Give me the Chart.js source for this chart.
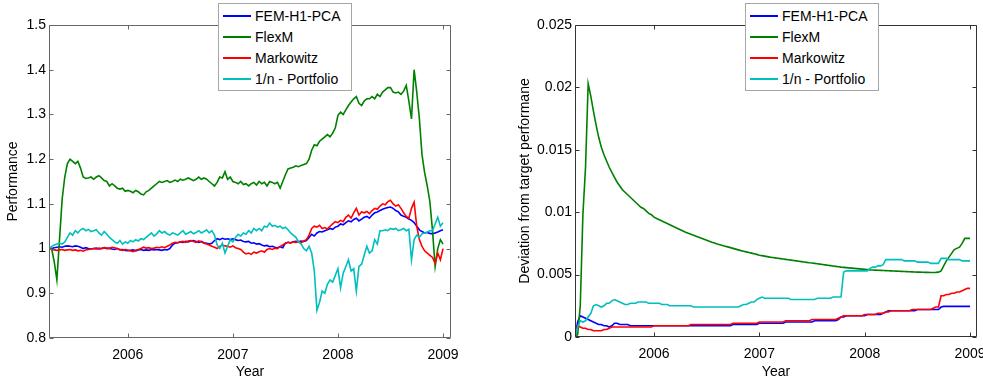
<!DOCTYPE html>
<html>
<head>
<meta charset="utf-8">
<script src="https://cdn.jsdelivr.net/npm/chart.js@4.4.1/dist/chart.umd.min.js"></script>
<style>
  html, body { margin: 0; padding: 0; background: #fff; }
  #wrap { position: relative; width: 983px; height: 383px; overflow: hidden; font-family: "Liberation Sans", Arial, sans-serif; }
  .pane { position: absolute; top: 0; height: 383px; }
  #paneL { left: 0; width: 480px; }
  #paneR { left: 490px; width: 493px; }
  .legend { position: absolute; top: 3px; width: 134px; height: 88px; box-sizing: border-box; border: 1px solid #a6a6a6; background: #fff; padding: 1px 0; font-size: 14px; color: #000; }
  .legend .row { display: flex; align-items: center; height: 21px; white-space: nowrap; }
  .legend .swatch { width: 28px; height: 0; border-top: 2px solid; margin: 0 4px; }
</style>
</head>
<body>
<div id="wrap">
  <div class="pane" id="paneL"><canvas id="perfChart" width="480" height="383"></canvas></div>
  <div class="pane" id="paneR"><canvas id="devChart" width="493" height="383"></canvas></div>
  <div class="legend" id="legendL" style="left:218px"></div>
  <div class="legend" id="legendR" style="left:745px"></div>
</div>
<script>
// 横軸: 2005/04 〜 2009/01, 1/40年きざみのサンプル位置
const years = [];
for (let i = 0; i <= 150; i++) years.push(2005.25 + i / 40);

const yearTicks = [2006, 2007, 2008, 2009];
const perfTicks = [0.8, 0.9, 1, 1.1, 1.2, 1.3, 1.4, 1.5];
const devTicks = [0, 0.005, 0.01, 0.015, 0.02, 0.025];
const seriesNames = ['FEM-H1-PCA', 'FlexM', 'Markowitz', '1/n - Portfolio'];

// 左: Performance
const perfFem = [
  1.0, 1.0, 1.002, 1.003, 1.004, 1.003, 1.005, 1.006, 1.005, 1.004,
  1.006, 1.005, 1.003, 1.0, 1.002, 1.0, 0.999, 1.0, 1.001, 0.999,
  1.0, 1.002, 1.0, 1.001, 0.999, 0.998, 1.0, 0.997, 0.998, 0.996,
  0.995, 0.996, 0.997, 0.995, 0.997, 0.998, 0.996, 0.997, 0.996, 0.998,
  0.997, 0.998, 0.997, 0.996, 0.998, 0.997, 1.0, 1.008, 1.012, 1.013,
  1.015, 1.014, 1.016, 1.015, 1.017, 1.018, 1.016, 1.014, 1.016, 1.013,
  1.012, 1.01, 1.012, 1.018, 1.022, 1.02, 1.023, 1.021, 1.022, 1.02,
  1.022, 1.02, 1.018, 1.019, 1.016, 1.015, 1.016, 1.012, 1.013, 1.01,
  1.011, 1.008, 1.006, 1.007, 1.004, 1.005, 1.003, 1.002, 1.004, 1.002,
  1.012, 1.014, 1.013, 1.015, 1.016, 1.015, 1.017, 1.016, 1.018, 1.025,
  1.032, 1.028, 1.035, 1.038, 1.037, 1.04, 1.042, 1.045, 1.043, 1.048,
  1.05, 1.055, 1.053, 1.058, 1.062, 1.06, 1.065, 1.068, 1.062, 1.066,
  1.07, 1.072, 1.068, 1.075, 1.08, 1.082, 1.085, 1.088, 1.09, 1.092,
  1.093, 1.09, 1.085, 1.082, 1.075, 1.072, 1.07, 1.066, 1.063, 1.058,
  1.05, 1.042, 1.038, 1.035, 1.036, 1.034, 1.033, 1.035, 1.037, 1.04,
  1.042
];
const perfFlex = [
  1.0, 1.0, 0.97, 0.93, 1.02, 1.11, 1.16, 1.19, 1.2, 1.195,
  1.19, 1.195, 1.18, 1.16, 1.157, 1.158, 1.16, 1.155, 1.16, 1.163,
  1.158, 1.152, 1.15, 1.14, 1.145, 1.14, 1.135, 1.133, 1.135, 1.128,
  1.13, 1.128, 1.125, 1.13, 1.127, 1.122, 1.12, 1.127, 1.13, 1.135,
  1.14, 1.145, 1.15, 1.148, 1.15, 1.152, 1.148, 1.15, 1.153, 1.15,
  1.155, 1.153, 1.155, 1.158, 1.155, 1.152, 1.155, 1.16, 1.155, 1.158,
  1.155, 1.15, 1.145, 1.14, 1.148, 1.16, 1.158, 1.172, 1.155, 1.16,
  1.15, 1.148, 1.145, 1.15, 1.143, 1.145, 1.14, 1.145, 1.148, 1.142,
  1.15, 1.145, 1.148, 1.14, 1.15, 1.148, 1.145, 1.148, 1.135, 1.15,
  1.165, 1.178, 1.18, 1.182, 1.185, 1.183, 1.186, 1.188, 1.19, 1.2,
  1.22, 1.232, 1.23, 1.24, 1.245, 1.25, 1.255, 1.25, 1.258, 1.27,
  1.298, 1.305, 1.3, 1.31, 1.32, 1.328, 1.335, 1.34, 1.325, 1.32,
  1.33, 1.335, 1.335, 1.34, 1.335, 1.345, 1.34, 1.35, 1.355, 1.36,
  1.36, 1.35, 1.348, 1.35, 1.345, 1.352, 1.365, 1.33, 1.29, 1.4,
  1.35, 1.29, 1.21, 1.17, 1.14, 1.105, 1.04, 0.96, 1.0, 1.02,
  1.01
];
const perfMarkowitz = [
  1.0, 0.998, 0.997, 0.996, 0.997, 0.998, 0.996, 0.997, 0.998, 0.996,
  0.997, 0.995, 0.996, 0.994, 0.997, 0.998, 0.999, 1.0, 0.999, 1.001,
  1.0, 1.002, 1.001, 1.0, 1.003, 1.002, 1.0, 0.998, 0.996, 0.998,
  0.997, 0.995, 0.993, 0.996, 0.998, 1.0, 1.003, 1.001, 1.002, 1.0,
  1.001, 1.003, 1.002, 1.004, 1.002, 1.005, 1.008, 1.012, 1.014, 1.013,
  1.015, 1.016, 1.014, 1.017, 1.018, 1.016, 1.014, 1.017, 1.015, 1.012,
  1.01, 1.008, 1.005, 1.003, 1.0, 1.005, 1.008, 1.006, 1.005, 1.003,
  1.006, 1.002, 1.0, 0.998, 0.992, 0.988, 0.99, 0.987, 0.992, 0.99,
  0.993, 0.995, 0.992, 0.998, 1.0, 0.998, 1.001, 1.0, 1.005, 1.008,
  1.012, 1.014, 1.012, 1.015, 1.014, 1.016, 1.013, 1.017, 1.02, 1.03,
  1.045, 1.05, 1.048, 1.052, 1.045, 1.047, 1.044, 1.05, 1.055, 1.06,
  1.058, 1.063, 1.06, 1.07, 1.075, 1.068, 1.08, 1.09, 1.075, 1.082,
  1.08, 1.083, 1.078, 1.085, 1.09, 1.088, 1.095, 1.1, 1.098, 1.105,
  1.108, 1.1, 1.095, 1.098, 1.09, 1.08, 1.072, 1.068, 1.09, 1.104,
  1.05, 1.02, 1.005, 0.995, 0.99, 0.985, 0.98, 0.967, 0.99, 0.975,
  1.0
];
const perfUniform = [
  1.0, 1.005, 1.008, 1.01, 1.012, 1.01, 1.015, 1.025, 1.035, 1.03,
  1.04, 1.035, 1.042, 1.045, 1.04, 1.043, 1.038, 1.04, 1.042, 1.035,
  1.03, 1.038, 1.032, 1.025, 1.02, 1.015, 1.012, 1.018, 1.01, 1.015,
  1.012, 1.018, 1.015, 1.02, 1.017, 1.022, 1.02, 1.025, 1.03, 1.035,
  1.028, 1.033, 1.04, 1.035, 1.038, 1.033, 1.03, 1.035, 1.033, 1.03,
  1.035, 1.04, 1.032, 1.035, 1.038, 1.033, 1.036, 1.04, 1.035, 1.038,
  1.042, 1.035, 1.04, 1.03, 1.008, 1.0, 1.012, 0.99, 1.005, 1.02,
  1.015, 1.025, 1.032, 1.028, 1.035, 1.032, 1.04, 1.035, 1.045, 1.04,
  1.045, 1.04, 1.05, 1.048, 1.057, 1.05, 1.052, 1.048, 1.05, 1.045,
  1.048, 1.042, 1.035, 1.03, 1.025, 1.015, 1.01, 1.0, 0.995, 1.005,
  0.99, 0.95, 0.862, 0.88, 0.905, 0.9, 0.92, 0.93, 0.925, 0.94,
  0.955, 0.912, 0.945, 0.96, 0.975, 0.95, 0.955, 0.905, 0.96, 0.965,
  0.985, 1.005, 0.99, 0.995, 1.02, 1.01, 1.04, 1.04, 1.042, 1.04,
  1.045, 1.043, 1.045, 1.04, 1.042, 1.045, 1.04, 1.043, 0.975, 1.02,
  1.03, 1.025, 1.033, 1.035, 1.037, 1.04, 1.04, 1.055, 1.07, 1.05,
  1.058
];

// 右: Deviation from target performane
const devFem = [
  0, 0.0012, 0.0017, 0.0016, 0.0015, 0.0014, 0.0013, 0.0012, 0.0011, 0.001,
  0.001, 0.0009, 0.0009, 0.0008, 0.0009, 0.0011, 0.0011, 0.001, 0.001, 0.001,
  0.001, 0.0009, 0.0009, 0.0009, 0.0009, 0.0009, 0.0009, 0.0009, 0.0009, 0.0009,
  0.0009, 0.0009, 0.0009, 0.0009, 0.0009, 0.0009, 0.0009, 0.0009, 0.0009, 0.0009,
  0.0009, 0.0009, 0.0009, 0.0009, 0.0009, 0.0009, 0.0009, 0.0009, 0.0009, 0.0009,
  0.0009, 0.0009, 0.0009, 0.0009, 0.0009, 0.0009, 0.0009, 0.0009, 0.0009, 0.0009,
  0.001, 0.001, 0.001, 0.001, 0.001, 0.001, 0.001, 0.001, 0.001, 0.001,
  0.0011, 0.0011, 0.0011, 0.0011, 0.0011, 0.0011, 0.0011, 0.0011, 0.0011, 0.0011,
  0.0012, 0.0012, 0.0012, 0.0012, 0.0012, 0.0012, 0.0012, 0.0012, 0.0012, 0.0012,
  0.0012, 0.0013, 0.0013, 0.0013, 0.0013, 0.0013, 0.0013, 0.0013, 0.0013, 0.0013,
  0.0014, 0.0016, 0.0016, 0.0017, 0.0017, 0.0017, 0.0017, 0.0017, 0.0017, 0.0017,
  0.0017, 0.0018, 0.0018, 0.0018, 0.0018, 0.0018, 0.0018, 0.0019, 0.002, 0.0021,
  0.0021, 0.0021, 0.0021, 0.0021, 0.0021, 0.0021, 0.0021, 0.0021, 0.0021, 0.0021,
  0.0022, 0.0022, 0.0022, 0.0022, 0.0022, 0.0022, 0.0022, 0.0022, 0.0022, 0.0024,
  0.00245, 0.00245, 0.00245, 0.00245, 0.00245, 0.00245, 0.00245, 0.00245, 0.00245, 0.00245,
  0.00245
];
const devFlex = [
  0, 0.0002, 0.0025, 0.0098, 0.0136, 0.0203, 0.0193, 0.0181, 0.017, 0.016,
  0.0152, 0.0146, 0.0141, 0.0136, 0.0132, 0.0128, 0.0124, 0.0121, 0.0118, 0.0116,
  0.0114, 0.0112, 0.011, 0.0108, 0.0106, 0.0104, 0.0103, 0.0101, 0.0099, 0.0098,
  0.0096, 0.0095, 0.0094, 0.0093, 0.0092, 0.0091, 0.009, 0.0089, 0.0088, 0.0087,
  0.0086, 0.0085, 0.0084, 0.00832, 0.00824, 0.00816, 0.00808, 0.008, 0.00792, 0.00784,
  0.00776, 0.00768, 0.0076, 0.00753, 0.00746, 0.0074, 0.00734, 0.00728, 0.00722, 0.00716,
  0.0071, 0.00704, 0.00698, 0.00692, 0.00687, 0.00682, 0.00677, 0.00672, 0.00667, 0.00662,
  0.00655, 0.00652, 0.00648, 0.00644, 0.0064, 0.00637, 0.00634, 0.00631, 0.00628, 0.00625,
  0.00622, 0.00619, 0.00616, 0.00613, 0.0061, 0.00607, 0.00604, 0.00601, 0.00598, 0.00595,
  0.00593, 0.0059, 0.00587, 0.00584, 0.00581, 0.00578, 0.00575, 0.00572, 0.00569, 0.00566,
  0.00563, 0.0056, 0.00558, 0.00556, 0.00554, 0.00552, 0.0055, 0.00548, 0.00546, 0.00544,
  0.00542, 0.0054, 0.00538, 0.00537, 0.00536, 0.00535, 0.00534, 0.00533, 0.00532, 0.00531,
  0.0053, 0.00529, 0.00528, 0.00527, 0.00526, 0.00525, 0.00524, 0.00523, 0.00522, 0.00521,
  0.0052, 0.0052, 0.00519, 0.00518, 0.00518, 0.00517, 0.00517, 0.00518, 0.0052, 0.0053,
  0.0057, 0.0061, 0.0064, 0.0067, 0.007, 0.0071, 0.0072, 0.0075, 0.0079, 0.0079,
  0.0079
];
const devMarkowitz = [
  0, 0.0009, 0.0008, 0.0007, 0.0007, 0.0006, 0.0006, 0.0005, 0.0005, 0.0005,
  0.0005, 0.0006, 0.0006, 0.0007, 0.0008, 0.0008, 0.0008, 0.0008, 0.0008, 0.0008,
  0.0008, 0.0008, 0.0008, 0.0008, 0.0008, 0.0008, 0.0008, 0.0008, 0.0008, 0.0008,
  0.0009, 0.0009, 0.0009, 0.0009, 0.0009, 0.0009, 0.0009, 0.0009, 0.0009, 0.0009,
  0.0009, 0.0009, 0.0009, 0.0009, 0.001, 0.001, 0.001, 0.001, 0.001, 0.001,
  0.001, 0.001, 0.001, 0.001, 0.001, 0.001, 0.001, 0.001, 0.001, 0.001,
  0.0011, 0.0011, 0.0011, 0.0011, 0.0011, 0.0011, 0.0011, 0.0011, 0.0011, 0.0011,
  0.0012, 0.0012, 0.0012, 0.0012, 0.0012, 0.0012, 0.0012, 0.0012, 0.0012, 0.0012,
  0.0013, 0.0013, 0.0013, 0.0013, 0.0013, 0.0013, 0.0013, 0.0013, 0.0013, 0.0013,
  0.0014, 0.0014, 0.0014, 0.0014, 0.0014, 0.0014, 0.0014, 0.0014, 0.0014, 0.0014,
  0.0015, 0.0016, 0.0017, 0.0017, 0.0017, 0.0017, 0.0017, 0.0017, 0.0017, 0.0017,
  0.0018, 0.0018, 0.0018, 0.0018, 0.0018, 0.0019, 0.0019, 0.0019, 0.002, 0.002,
  0.0021, 0.0021, 0.0021, 0.0021, 0.0021, 0.0021, 0.0021, 0.0021, 0.0022, 0.0022,
  0.0022, 0.0022, 0.0022, 0.0022, 0.0022, 0.0022, 0.0023, 0.0024, 0.0024, 0.0033,
  0.0033, 0.0034, 0.0034, 0.0035, 0.0035, 0.0036, 0.0036, 0.0037, 0.0038, 0.0039,
  0.0039
];
const devUniform = [
  0, 0.0008, 0.0013, 0.0012, 0.0013, 0.0016, 0.0019, 0.0025, 0.0026, 0.0025,
  0.0024, 0.0025, 0.0027, 0.0027, 0.0029, 0.003, 0.0029, 0.0028, 0.0027, 0.0026,
  0.0026, 0.0027, 0.0027, 0.0027, 0.0028, 0.0028, 0.0028, 0.0028, 0.0027, 0.0027,
  0.0027, 0.0027, 0.0027, 0.0026, 0.0026, 0.0026, 0.0025, 0.0025, 0.0025, 0.0025,
  0.0025, 0.0025, 0.0025, 0.0025, 0.0025, 0.0024, 0.0024, 0.0024, 0.0024, 0.0024,
  0.0024, 0.0024, 0.0024, 0.0024, 0.0024, 0.0024, 0.0024, 0.0024, 0.0024, 0.0024,
  0.0024, 0.0024, 0.0024, 0.0025, 0.0026, 0.0026, 0.0027, 0.0028, 0.0028, 0.003,
  0.0031, 0.0032, 0.0031, 0.0031, 0.0031, 0.0031, 0.0031, 0.0031, 0.0031, 0.0031,
  0.0031, 0.0031, 0.003, 0.003, 0.003, 0.003, 0.003, 0.003, 0.003, 0.003,
  0.003, 0.003, 0.0031, 0.0031, 0.0031, 0.0031, 0.0031, 0.0031, 0.0032, 0.0032,
  0.0032, 0.0032, 0.0052, 0.0053, 0.0053, 0.0053, 0.0053, 0.0053, 0.0053, 0.0053,
  0.0053, 0.0053, 0.0055, 0.0056, 0.0056, 0.0057, 0.0057, 0.0058, 0.0062, 0.0062,
  0.0062, 0.0062, 0.0062, 0.0062, 0.0062, 0.0061, 0.0061, 0.0061, 0.0061, 0.0061,
  0.006, 0.006, 0.006, 0.006, 0.006, 0.0059, 0.0059, 0.0059, 0.0059, 0.0063,
  0.0063, 0.0063, 0.0062, 0.0062, 0.0062, 0.0062, 0.0062, 0.0061, 0.0061, 0.0061,
  0.0061
];

const lineColors = ['#0000ff', '#008000', '#ff0000', '#00bfbf'];
const drawOrder = [4, 3, 2, 1]; // matlabと同じく後の系列が上

Chart.defaults.font.family = '"Liberation Sans", Arial, sans-serif';
Chart.defaults.font.size = 14;
Chart.defaults.color = '#000';

// 枠線と内向きの目盛り (matlab風)
const matlabAxes = {
  id: 'matlabAxes',
  afterDatasetsDraw(chart, args, opts) {
    const ctx = chart.ctx, a = chart.chartArea;
    const xs = chart.scales.x, ys = chart.scales.y;
    const L = Math.round(a.left) + 0.5, R = Math.round(a.right) - 0.5;
    const T = Math.round(a.top) + 0.5, B = Math.round(a.bottom) - 0.5;
    ctx.save();
    ctx.strokeStyle = opts.color;
    ctx.lineWidth = 1;
    ctx.beginPath();
    ctx.rect(L, T, R - L, B - T);
    xs.ticks.forEach(t => {
      const px = Math.round(xs.getPixelForValue(t.value)) + 0.5;
      ctx.moveTo(px, B); ctx.lineTo(px, B - 4);
      ctx.moveTo(px, T); ctx.lineTo(px, T + 4);
    });
    ys.ticks.forEach(t => {
      const py = Math.round(ys.getPixelForValue(t.value)) + 0.5;
      ctx.moveTo(L, py); ctx.lineTo(L + 4, py);
      ctx.moveTo(R, py); ctx.lineTo(R - 4, py);
    });
    ctx.stroke();
    ctx.restore();
  }
};

function makeSets(list) {
  return list.map((vals, k) => ({
    label: seriesNames[k],
    data: vals.map((v, i) => ({x: years[i], y: v})),
    borderColor: lineColors[k],
    borderWidth: 1.6,
    pointRadius: 0,
    tension: 0,
    order: drawOrder[k]
  }));
}

function makeChart(id, sets, cfg) {
  return new Chart(document.getElementById(id), {
    type: 'line',
    data: {datasets: sets},
    options: {
      responsive: false,
      animation: false,
      events: [],
      layout: {padding: {top: 25, right: cfg.padRight, left: 0, bottom: 0}},
      plugins: {
        legend: {display: false},
        tooltip: {enabled: false},
        matlabAxes: {color: cfg.boxColor}
      },
      scales: {
        x: {
          type: 'linear',
          min: 2005.25,
          max: cfg.xMax,
          afterBuildTicks: s => { s.ticks = yearTicks.map(v => ({value: v})); },
          afterFit: s => { s.height = cfg.xHeight; s.paddingLeft = 0; s.paddingRight = 0; },
          ticks: {padding: 9, maxRotation: 0, callback: v => String(v)},
          grid: {display: false, drawTicks: false},
          border: {display: false},
          title: {display: true, text: 'Year', padding: {top: 0, bottom: 2}}
        },
        y: {
          min: cfg.yTicks[0],
          max: cfg.yTicks[cfg.yTicks.length - 1],
          afterBuildTicks: s => { s.ticks = cfg.yTicks.map(v => ({value: v})); },
          afterFit: s => { s.width = cfg.yWidth; s.paddingTop = 0; s.paddingBottom = 0; },
          ticks: {padding: 3, callback: v => String(+v.toFixed(4))},
          grid: {display: false, drawTicks: false},
          border: {display: false},
          title: {display: true, text: cfg.yTitle, padding: {top: cfg.titlePad, bottom: 0}}
        }
      }
    },
    plugins: [matlabAxes]
  });
}

makeChart('perfChart', makeSets([perfFem, perfFlex, perfMarkowitz, perfUniform]), {
  padRight: 29, xMax: 2009.076, xHeight: 45, yWidth: 49,
  yTicks: perfTicks, yTitle: 'Performance', titlePad: 5, boxColor: '#666'
});

makeChart('devChart', makeSets([devFem, devFlex, devMarkowitz, devUniform]), {
  padRight: 6, xMax: 2009.066, xHeight: 46, yWidth: 85,
  yTicks: devTicks, yTitle: 'Deviation from target performane', titlePad: 27, boxColor: '#333'
});

// 凡例 (グラフの上に重ねる)
['legendL', 'legendR'].forEach(id => {
  const box = document.getElementById(id);
  seriesNames.forEach((name, k) => {
    const row = document.createElement('div');
    row.className = 'row';
    const sw = document.createElement('span');
    sw.className = 'swatch';
    sw.style.borderTopColor = lineColors[k];
    const txt = document.createElement('span');
    txt.textContent = name;
    row.appendChild(sw);
    row.appendChild(txt);
    box.appendChild(row);
  });
});
</script>
</body>
</html>
